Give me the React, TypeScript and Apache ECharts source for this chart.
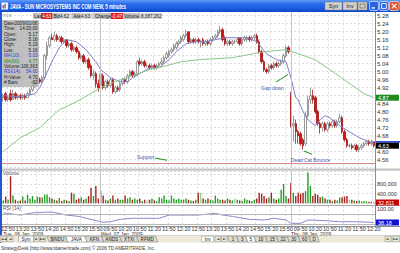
import React, { useEffect, useRef } from 'react';
import * as echarts from 'echarts';

const FONT = '"Liberation Sans", Arial, sans-serif';
const SYMBOL_FONT = '"DejaVu Sans", sans-serif';

const sessions = [
  { date: 'Tue, 06 Jan, 2009', start: '12:40', bars: 40 },
  { date: 'Wed, 07 Jan, 2009', start: '09:30', bars: 78 },
  { date: 'Thu, 08 Jan, 2009', start: '09:30', bars: 35 },
];

// [open, close, low, high]
const candlesDay1 = [
  [4.87, 4.88, 4.85, 4.89], [4.89, 4.86, 4.85, 4.90], [4.86, 4.87, 4.85, 4.88], [4.89, 4.86, 4.85, 4.91],
  [4.86, 4.89, 4.86, 4.91], [4.89, 4.87, 4.86, 4.90], [4.87, 4.88, 4.86, 4.89], [4.88, 4.87, 4.86, 4.89],
  [4.87, 4.88, 4.86, 4.89], [4.88, 4.87, 4.86, 4.89], [4.87, 4.89, 4.87, 4.90], [4.89, 4.91, 4.88, 4.92],
  [4.91, 4.93, 4.90, 4.94], [4.93, 4.95, 4.92, 4.96], [4.95, 4.96, 4.94, 4.97], [4.96, 4.95, 4.94, 4.97],
  [4.95, 4.97, 4.94, 4.98], [4.97, 5.08, 4.96, 5.09], [5.08, 5.13, 5.06, 5.15], [5.13, 5.17, 5.12, 5.18],
  [5.17, 5.16, 5.16, 5.19], [5.16, 5.18, 5.15, 5.20], [5.18, 5.16, 5.15, 5.19], [5.16, 5.17, 5.15, 5.18],
  [5.17, 5.15, 5.14, 5.18], [5.15, 5.16, 5.14, 5.17], [5.16, 5.13, 5.12, 5.16], [5.13, 5.14, 5.12, 5.15],
  [5.14, 5.11, 5.10, 5.15], [5.11, 5.12, 5.10, 5.13], [5.12, 5.10, 5.09, 5.13], [5.10, 5.07, 5.06, 5.11],
  [5.07, 5.08, 5.06, 5.09], [5.08, 5.05, 5.04, 5.09], [5.05, 5.06, 5.04, 5.07], [5.06, 5.02, 5.01, 5.07],
  [5.03, 4.98, 4.97, 5.04], [4.98, 4.99, 4.96, 5.01], [4.99, 4.94, 4.92, 5.00], [4.94, 4.92, 4.90, 4.96],
];
const candlesDay2 = [
  [4.93, 4.99, 4.92, 5.01], [4.98, 4.92, 4.91, 4.99], [4.92, 4.95, 4.91, 4.96], [4.95, 4.93, 4.92, 4.96],
  [4.93, 4.96, 4.92, 4.97], [4.96, 4.90, 4.89, 4.97], [4.90, 4.92, 4.89, 4.93], [4.92, 4.91, 4.90, 4.93],
  [4.91, 4.94, 4.90, 4.95], [4.94, 4.96, 4.93, 4.97], [4.96, 4.95, 4.94, 4.97], [4.95, 4.98, 4.94, 4.99],
  [4.98, 5.00, 4.97, 5.01], [5.00, 4.98, 4.97, 5.01], [4.98, 4.99, 4.97, 5.00], [4.99, 5.05, 4.98, 5.06],
  [5.05, 5.04, 5.03, 5.07], [5.04, 5.05, 5.03, 5.06], [5.05, 5.03, 5.02, 5.06], [5.03, 5.03, 5.02, 5.04],
  [5.03, 5.02, 5.01, 5.04], [5.02, 5.03, 5.01, 5.04], [5.03, 5.02, 5.01, 5.04], [5.02, 5.03, 5.01, 5.04],
  [5.03, 5.04, 5.02, 5.05], [5.04, 5.05, 5.03, 5.07], [5.05, 5.07, 5.04, 5.08], [5.07, 5.09, 5.06, 5.10],
  [5.08, 5.10, 5.07, 5.11], [5.10, 5.11, 5.09, 5.12], [5.11, 5.13, 5.10, 5.14], [5.12, 5.14, 5.11, 5.15],
  [5.14, 5.15, 5.13, 5.16], [5.15, 5.17, 5.14, 5.18], [5.16, 5.18, 5.15, 5.19], [5.18, 5.19, 5.17, 5.21],
  [5.20, 5.15, 5.14, 5.20], [5.15, 5.16, 5.14, 5.17], [5.16, 5.15, 5.14, 5.17], [5.15, 5.16, 5.14, 5.17],
  [5.16, 5.15, 5.14, 5.17], [5.15, 5.15, 5.12, 5.16], [5.16, 5.14, 5.13, 5.17], [5.14, 5.15, 5.13, 5.16],
  [5.15, 5.14, 5.13, 5.16], [5.14, 5.16, 5.13, 5.17], [5.16, 5.17, 5.15, 5.18], [5.17, 5.18, 5.16, 5.19],
  [5.18, 5.20, 5.17, 5.21], [5.20, 5.21, 5.19, 5.23], [5.21, 5.16, 5.15, 5.22], [5.17, 5.14, 5.13, 5.18],
  [5.14, 5.15, 5.13, 5.16], [5.15, 5.14, 5.13, 5.16], [5.14, 5.15, 5.13, 5.16], [5.15, 5.15, 5.14, 5.16],
  [5.15, 5.16, 5.14, 5.17], [5.17, 5.14, 5.13, 5.17], [5.14, 5.16, 5.13, 5.17], [5.16, 5.17, 5.15, 5.18],
  [5.16, 5.17, 5.15, 5.18], [5.17, 5.16, 5.15, 5.18], [5.16, 5.17, 5.15, 5.18], [5.17, 5.18, 5.16, 5.19],
  [5.18, 5.15, 5.14, 5.19], [5.15, 5.10, 5.09, 5.16], [5.10, 5.05, 5.04, 5.11], [5.05, 5.01, 5.00, 5.06],
  [5.01, 5.00, 4.99, 5.02], [5.00, 5.03, 4.99, 5.04], [5.03, 5.02, 5.01, 5.04], [5.02, 5.04, 5.01, 5.05],
  [5.04, 5.03, 5.02, 5.05], [5.03, 5.04, 5.02, 5.05], [5.04, 5.05, 5.03, 5.06], [5.05, 5.08, 5.04, 5.09],
  [5.08, 5.12, 5.07, 5.13], [5.12, 5.10, 5.09, 5.13],
];
const candlesDay3 = [
  [4.88, 4.73, 4.72, 4.90], [4.73, 4.74, 4.65, 4.78], [4.74, 4.70, 4.64, 4.76], [4.70, 4.68, 4.64, 4.71],
  [4.69, 4.64, 4.63, 4.70], [4.66, 4.63, 4.61, 4.67], [4.64, 4.78, 4.63, 4.80], [4.78, 4.86, 4.77, 4.88],
  [4.86, 4.88, 4.84, 4.92], [4.88, 4.86, 4.84, 4.91], [4.87, 4.80, 4.79, 4.88], [4.80, 4.74, 4.73, 4.81],
  [4.74, 4.72, 4.69, 4.75], [4.72, 4.74, 4.70, 4.75], [4.74, 4.71, 4.70, 4.75], [4.71, 4.74, 4.70, 4.75],
  [4.74, 4.73, 4.72, 4.75], [4.73, 4.75, 4.72, 4.76], [4.75, 4.73, 4.72, 4.76], [4.73, 4.75, 4.72, 4.76],
  [4.75, 4.77, 4.74, 4.79], [4.77, 4.70, 4.69, 4.78], [4.70, 4.66, 4.65, 4.71], [4.66, 4.63, 4.62, 4.67],
  [4.63, 4.63, 4.62, 4.64], [4.63, 4.62, 4.61, 4.64], [4.62, 4.63, 4.61, 4.64], [4.63, 4.61, 4.60, 4.64],
  [4.61, 4.62, 4.60, 4.63], [4.62, 4.63, 4.61, 4.64], [4.63, 4.64, 4.62, 4.65], [4.64, 4.65, 4.63, 4.66],
  [4.65, 4.64, 4.63, 4.66], [4.64, 4.65, 4.63, 4.66], [4.65, 4.63, 4.62, 4.65],
];

// volume in thousands of shares
const volumeDay1K = [
  120, 280, 150, 1120, 320, 150, 100, 120, 280, 120,
  360, 200, 300, 150, 280, 250, 240, 360, 360, 250,
  200, 150, 120, 220, 100, 150, 120, 100, 440, 400,
  150, 200, 250, 150, 200, 300, 640, 300, 720, 200,
];
const volumeDay2K = [
  520, 320, 150, 120, 200, 320, 150, 200, 150, 150,
  320, 200, 250, 150, 200, 150, 200, 100, 150, 120,
  150, 200, 120, 100, 250, 200, 320, 150, 120, 320,
  200, 150, 200, 150, 150, 200, 150, 120, 100, 150,
  440, 440, 200, 150, 200, 150, 120, 320, 200, 150,
  150, 120, 200, 150, 120, 200, 150, 120, 100, 200,
  150, 120, 100, 150, 200, 440, 400, 300, 200, 250,
  440, 200, 150, 200, 560, 800, 300, 200,
];
const volumeDay3K = [
  840, 440, 300, 440, 400, 440, 500, 1280, 720, 300,
  400, 350, 250, 280, 200, 150, 150, 100, 150, 120,
  240, 250, 280, 300, 150, 150, 120, 100, 120, 80,
  100, 80, 60, 70, 32.811,
];

// [bar index, value]
const ma10Points = [
  [0, 4.88], [7, 4.875], [13, 4.89], [15, 4.92], [17, 4.97], [20, 5.05], [23, 5.12], [26, 5.16],
  [30, 5.15], [34, 5.11], [38, 5.05], [40, 5.01], [44, 4.97], [48, 4.95], [51, 4.95], [53, 4.97],
  [56, 4.99], [60, 5.02], [64, 5.02], [68, 5.06], [71, 5.10], [75, 5.14], [79, 5.15], [83, 5.15],
  [87, 5.16], [91, 5.17], [95, 5.17], [100, 5.17], [104, 5.15], [108, 5.09], [112, 5.06], [116, 5.05],
  [118, 4.97], [120, 4.87], [121, 4.86], [123, 4.80], [125, 4.76], [128, 4.73], [130, 4.76], [132, 4.78],
  [134, 4.77], [138, 4.73], [142, 4.70], [146, 4.67], [152, 4.64],
];
const ma60Points = [
  [0, 4.60], [7, 4.67], [15, 4.72], [23, 4.81], [25, 4.82], [30, 4.85], [33, 4.87], [40, 4.92],
  [46, 4.95], [53, 4.98], [60, 5.01], [67, 5.03], [73, 5.05], [80, 5.06], [94, 5.07], [107, 5.10],
  [116, 5.11], [121, 5.09], [128, 5.06], [134, 5.01], [141, 4.95], [148, 4.89], [152, 4.87],
];
const rsiPoints = [
  [0, 74], [7, 66], [12, 74], [18, 77], [20, 77], [26, 66], [31, 61], [37, 47.5], [41, 39], [44, 41],
  [48, 50], [53, 54], [59, 54], [64, 54], [68, 66], [72, 66], [77, 66], [80, 66], [87, 72.5], [90, 66],
  [94, 61], [101, 50], [107, 47.5], [111, 54], [116, 47.5], [118, 35], [122, 35], [125, 47.5],
  [132, 45], [138, 41], [145, 41], [152, 38.18],
];

const supportLevel = 4.54;
const rsiLevels = [70, 30];
const lastPrice = 4.63;
const ma60Last = 4.87;
const lastVolume = 32811;
const lastRsi = 38.18;
const hiddenPriceLabels = ['4.88', '4.64'];

const infoRows = [
  ['Date:', '2009/01/06', '#222'], ['Time:', '14:20:00', '#222'], ['Open:', '5.17', '#222'],
  ['Close:', '5.16', '#222'], ['High:', '5.19', '#222'], ['Low:', '5.16', '#222'],
  ['MA(10):', '5.03', '#3040d0'], ['MA(60):', '4.77', '#1c8a1c'], ['Volume:', '106,363', '#222'],
  ['RSI(14):', '54.60', '#3040d0'], ['H-Value:', '4.70', '#222'], ['# Bars:', '-62', '#222'],
];
const symbolTabs = ['$INDU', 'JAVA', 'KFN', 'ANDS', 'XTXI', 'RFMD'];
const symbolTabEdges = [48, 66.7, 86, 102.7, 120.7, 137.7, 156.7];
const periodTabs = ['1', '3', '5', '10', '15', '22', '30', '60', 'D'];
const periodTabEdges = [228.3, 237.7, 246.7, 255, 266.7, 277.7, 288.3, 299.3, 310, 318.3];

function buildTimes() {
  const times: string[] = [];
  const dayStarts: number[] = [];
  sessions.forEach((s) => {
    dayStarts.push(times.length);
    let [h, m] = s.start.split(':').map(Number);
    for (let k = 0; k < s.bars; k++) {
      times.push(String(h).padStart(2, '0') + ':' + String(m).padStart(2, '0'));
      m += 5;
      if (m >= 60) { m -= 60; h += 1; }
    }
  });
  return { times, dayStarts };
}

export default function App() {
  const ref = useRef<HTMLDivElement>(null);
  useEffect(() => {
    document.body.style.margin = '0';
    const chart = echarts.init(ref.current!, undefined, { renderer: 'svg' });
    const { times, dayStarts } = buildTimes();
    const candles = [...candlesDay1, ...candlesDay2, ...candlesDay3];
    const volumes = [...volumeDay1K, ...volumeDay2K, ...volumeDay3K].map((v) => v * 1000);
    const volData = volumes.map((v, i) => {
      const [o, c] = candles[i];
      const prev = i > 0 ? candles[i - 1][1] : o;
      const up = c >= prev;
      const agree = up ? c > o : c < o;
      const color = up ? (agree ? '#22a022' : '#8fd88f') : (agree ? '#a82020' : '#e39090');
      return { value: v, itemStyle: { color } };
    });
    const isLabel = (i: number) => /:(20|50)$/.test(times[i] || '');
    const daySep = {
      silent: true, symbol: ['none', 'none'], label: { show: false },
      emphasis: { disabled: true },
      lineStyle: { color: '#c4c4c4', type: 'solid', width: 1 },
      data: dayStarts.slice(1).map((d) => ({ xAxis: d })),
    };
    const gridSplit = { show: true, interval: (i: number) => isLabel(i), lineStyle: { color: '#dedede', type: [2, 2], width: 1 } };
    const baseX = {
      type: 'category', data: times, boundaryGap: true,
      axisLine: { show: false }, axisTick: { show: false }, axisLabel: { show: false },
      splitLine: gridSplit,
    };

    chart.setOption({
      animation: false,
      backgroundColor: '#ffffff',
      grid: [
        { left: 2, top: 7.7, width: 373, height: 160, containLabel: false, outerBoundsMode: 'none' },
        { left: 2, top: 171, width: 373, height: 32.3, containLabel: false, outerBoundsMode: 'none' },
        { left: 2, top: 206, width: 373, height: 20, containLabel: false, outerBoundsMode: 'none' },
      ],
      xAxis: [
        { ...baseX, gridIndex: 0 },
        { ...baseX, gridIndex: 1 },
        { ...baseX, gridIndex: 2, position: 'bottom',
          axisLabel: { show: true, interval: (i: number) => isLabel(i), margin: 0,
            fontSize: 5.5, lineHeight: 5.5, color: '#333', fontFamily: FONT } },
        { type: 'category', data: times, boundaryGap: true, gridIndex: 2, position: 'bottom', offset: 0,
          axisLine: { show: false }, axisTick: { show: false }, splitLine: { show: false },
          axisLabel: { show: true, interval: (i: number) => dayStarts.includes(i),
            formatter: (_v: string, i: number) => sessions[dayStarts.indexOf(i)]?.date ?? '',
            align: 'left', margin: 5.7, fontSize: 5, color: '#333', fontFamily: FONT, lineHeight: 5 } },
      ],
      yAxis: [
        { gridIndex: 0, type: 'value', position: 'right', min: 4.52, max: 5.32, interval: 0.04,
          axisLine: { show: false }, axisTick: { show: false },
          axisLabel: { margin: 2, fontSize: 6, color: '#333', fontFamily: FONT,
            formatter: (v: number) => {
              const s = v.toFixed(2);
              return v < 4.555 || v > 5.30 || hiddenPriceLabels.includes(s) ? '' : s;
            } },
          splitLine: { show: true, lineStyle: { color: '#dedede', type: [2, 2], width: 1 } } },
        { gridIndex: 1, type: 'value', position: 'right', min: 0, max: 1340000, interval: 400000,
          axisLine: { show: false }, axisTick: { show: false },
          axisLabel: { margin: 2, fontSize: 5.5, color: '#333', fontFamily: FONT,
            formatter: (v: number) => (v === 400000 ? '400,000' : v === 800000 ? '800,000' : '') },
          splitLine: { show: true, lineStyle: { color: '#dedede', type: [2, 2], width: 1 } } },
        { gridIndex: 2, type: 'value', position: 'right', min: 25, max: 100, interval: 25,
          axisLine: { show: false }, axisTick: { show: false },
          axisLabel: { margin: 2, fontSize: 5.5, color: '#333', fontFamily: FONT, verticalAlign: 'top',
            formatter: (v: number) => (v === 100 ? '100.00' : '') },
          splitLine: { show: false } },
      ],
      series: [
        { type: 'candlestick', xAxisIndex: 0, yAxisIndex: 0, data: candles, barWidth: 2, silent: true,
          itemStyle: { color: '#ffffff', color0: '#e01010', borderColor: '#707070', borderColor0: '#9a0000', borderWidth: 0.7 },
          markLine: { ...daySep, data: [...daySep.data, { yAxis: supportLevel, lineStyle: { color: '#d88a8a', type: 'solid', width: 1 } }] } },
        { type: 'line', xAxisIndex: 0, yAxisIndex: 0, data: ma10Points, symbol: 'none', silent: true,
          lineStyle: { color: '#8080c8', width: 1 } },
        { type: 'line', xAxisIndex: 0, yAxisIndex: 0, data: ma60Points, symbol: 'none', silent: true,
          lineStyle: { color: '#8cc88c', width: 1 } },
        { type: 'bar', xAxisIndex: 1, yAxisIndex: 1, data: volData, barWidth: 1.4, silent: true,
          markLine: daySep },
        { type: 'line', xAxisIndex: 2, yAxisIndex: 2, data: rsiPoints, symbol: 'none', silent: true,
          lineStyle: { color: '#8a8ac8', width: 1 },
          markLine: { ...daySep, data: [...daySep.data, ...rsiLevels.map((l) => ({ yAxis: l, lineStyle: { color: '#b8b8b8', type: 'solid', width: 1 } }))] } },
      ],
    });

    const Z = 100;
    const rect = (x: number, y: number, w: number, h: number, fill: any, stroke?: string, lw = 0.5, r = 0) => ({
      type: 'rect', silent: true, z: Z, shape: { x, y, width: w, height: h, r },
      style: { fill, stroke: stroke || 'none', lineWidth: lw },
    });
    const line = (x1: number, y1: number, x2: number, y2: number, stroke: string, lw = 1) => ({
      type: 'line', silent: true, z: Z, shape: { x1, y1, x2, y2 }, style: { stroke, lineWidth: lw },
    });
    const text = (x: number, y: number, t: string, o: any = {}) => ({
      type: 'text', silent: true, z: Z + 1, x, y, scaleX: o.scaleX ?? 1,
      style: {
        text: t, fill: o.fill || '#222', fontSize: o.size || 5, fontFamily: o.family || FONT,
        fontWeight: o.weight || 'normal', align: o.align || 'left', verticalAlign: 'middle',
        textAlign: o.align || 'left', textVerticalAlign: 'middle', lineHeight: o.size || 5,
      },
    });
    const poly = (pts: number[][], fill: string, stroke: string) => ({
      type: 'polygon', silent: true, z: Z, shape: { points: pts }, style: { fill, stroke, lineWidth: 0.5 },
    });

    const yP = (v: number) => chart.convertToPixel({ yAxisIndex: 0 }, v) as number;
    const yV = (v: number) => chart.convertToPixel({ yAxisIndex: 1 }, v) as number;
    const yR = (v: number) => chart.convertToPixel({ yAxisIndex: 2 }, v) as number;

    const g: any[] = [];
    // frame & panel separators
    g.push(rect(0, 12, 2, 231, '#2357d6'));
    g.push(rect(2, 168.6, 398, 2.2, '#c6c6c6'));
    g.push(line(2, 205.5, 400, 205.5, '#a8a8a8', 1));
    g.push(line(2, 226.5, 400, 226.5, '#8c8c8c', 1));
    g.push(line(375.5, 12, 375.5, 226.5, '#8c8c8c', 1));
    // title bar
    g.push(rect(0, 0, 400, 12, {
      type: 'linear', x: 0, y: 0, x2: 0, y2: 1,
      colorStops: [{ offset: 0, color: '#5f9ef8' }, { offset: 0.3, color: '#2e6fec' }, { offset: 0.75, color: '#1858de' }, { offset: 1, color: '#0e47c6' }],
    }));
    g.push(rect(1.5, 2.5, 6.5, 7, '#ffffff', '#9ab4e8', 0.5));
    g.push(rect(2.6, 5, 1.2, 3.5, '#d02020'));
    g.push(rect(4.5, 3.8, 1.2, 4.7, '#505050'));
    g.push(text(10, 6.3, 'JAVA - SUN MICROSYSTEMS INC COM NEW, 5 minutes', { fill: '#ffffff', size: 6.5, weight: 'bold', scaleX: 0.68 }));
    g.push(rect(325, 2, 17, 8, '#d4d0c8', '#7f7f7f'));
    g.push(text(333.5, 6.2, 'Syn', { align: 'center', size: 5.5 }));
    g.push(rect(343, 2, 14, 8, '#d4d0c8', '#7f7f7f'));
    g.push(text(350, 6.2, 'Inv', { align: 'center', size: 5.5 }));
    g.push(rect(358, 2, 9, 8, '#d4d0c8', '#7f7f7f'));
    g.push(rect(360, 4, 5, 4, 'none', '#555', 0.6));
    g.push(rect(369.5, 1.5, 9, 9, '#2a63e6', '#ffffff', 0.6, 1.5));
    g.push(rect(371.5, 7.3, 3.5, 1.3, '#ffffff'));
    g.push(rect(379.5, 1.5, 9, 9, '#2a63e6', '#ffffff', 0.6, 1.5));
    g.push(rect(381.6, 3.6, 4.8, 4.8, 'none', '#ffffff', 0.9));
    g.push(rect(389.5, 1.5, 9.5, 9, '#e0522c', '#ffffff', 0.6, 1.5));
    g.push(line(391.8, 3.6, 396.6, 8.4, '#ffffff', 1.1));
    g.push(line(396.6, 3.6, 391.8, 8.4, '#ffffff', 1.1));
    // ticker + quote bar
    g.push(text(3, 15.3, 'TCK', { size: 4.3, fill: '#777' }));
    g.push(rect(33, 13, 129, 6, '#c2c2c2'));
    g.push(text(34.3, 16, 'Last', { size: 4.6 }));
    g.push(rect(41.2, 13, 11, 6, '#e41c1c'));
    g.push(text(46.7, 16, '4.63', { size: 4.6, fill: '#fff', align: 'center' }));
    g.push(text(53.5, 16, 'Bid', { size: 4.6 }));
    g.push(rect(59, 13, 13, 6, '#d8d8d8'));
    g.push(text(60, 16, '4.62', { size: 4.6 }));
    g.push(text(73.5, 16, 'Ask', { size: 4.6 }));
    g.push(rect(80, 13, 13.5, 6, '#d8d8d8'));
    g.push(text(81, 16, '4.63', { size: 4.6 }));
    g.push(text(95, 16, 'Change', { size: 4.6 }));
    g.push(rect(110.8, 13, 12, 6, '#e41c1c'));
    g.push(text(116.8, 16, '-0.47', { size: 4.6, fill: '#fff', align: 'center' }));
    g.push(text(124, 16, 'Volume', { size: 4.6 }));
    g.push(rect(140, 13, 22, 6, '#d8d8d8'));
    g.push(text(141, 16, '8,387,262', { size: 4.6 }));
    // info box
    g.push(rect(2, 20, 37, 67, 'rgba(178,178,178,0.82)'));
    infoRows.forEach(([k, v, c], i) => {
      const y = 23.3 + i * 5.4;
      g.push(text(4, y, k, { size: 4.6, fill: c }));
      g.push(text(37.5, y, v, { size: 4.6, fill: c, align: 'right' }));
    });
    // annotations
    const annC = '#4a5aa8';
    const annL = '#1e8e1e';
    g.push(text(145.5, 157.3, 'Support', { size: 5, fill: annC, align: 'center' }));
    g.push(line(155, 158, 167, 160.3, annL, 1));
    g.push(text(272.5, 87.5, 'Gap down', { size: 5, fill: annC, align: 'center' }));
    g.push(line(276, 82, 288, 74.5, annL, 1));
    g.push(text(310.5, 159.5, 'Dead Cat Bounce', { size: 5, fill: annC, align: 'center' }));
    g.push(line(304, 151, 312, 154.3, annL, 1));
    // panel titles
    g.push(text(3, 173.8, 'Volume', { size: 4.8, fill: '#555' }));
    g.push(text(3, 208.6, 'RSI (14)', { size: 4.8, fill: '#555' }));
    // right-axis value boxes
    const box = (y: number, t: string, fill: string) => {
      g.push(rect(376, y - 3, 23, 6, fill));
      g.push(text(378, y + 0.2, t, { size: 5.5, fill: '#ffffff' }));
    };
    box(yP(ma60Last), '4.87', '#1f8a1f');
    const yl = yP(lastPrice);
    g.push(rect(376, yl - 4.6, 24, 1.6, '#1838e0'));
    box(yl, '4.63', '#000000');
    box(yV(lastVolume), '32,811', '#cc0000');
    box(yR(lastRsi), '38.18', '#1212d2');
    // tab bar
    g.push(rect(0, 235.4, 400, 7, '#ece9d8'));
    g.push(line(0, 235.4, 400, 235.4, '#b0b0b0', 0.5));
    const btn = (x: number, w: number, t: string, white = false, fam = SYMBOL_FONT, size = 3.6) => {
      g.push(rect(x, 236.2, w, 5.6, white ? '#ffffff' : '#ece9d8', '#8a8a8a'));
      g.push(text(x + w / 2, 239.2, t, { size, align: 'center', family: fam }));
    };
    btn(0.8, 5.6, '◄◄');
    btn(7, 6, '◄');
    btn(18.5, 15, 'Sym', true, FONT, 4.6);
    btn(34, 5, '►');
    btn(40, 5.6, '►►');
    symbolTabs.forEach((t, i) => {
      const a = symbolTabEdges[i];
      const b = symbolTabEdges[i + 1];
      const sel = t === 'JAVA';
      g.push(poly([[a - 1, 236.2], [b - 1, 236.2], [b + 1, 242], [a + 1, 242]], sel ? '#ffffff' : '#dddbd1', '#6e6e6e'));
      g.push(text((a + b) / 2, 239.2, t, { size: 4.6, align: 'center' }));
    });
    btn(201.5, 12, 'Inv', true, FONT, 4.6);
    btn(215, 5.5, '◄');
    btn(221.5, 5.5, '►');
    periodTabs.forEach((t, i) => {
      const a = periodTabEdges[i];
      const b = periodTabEdges[i + 1];
      const sel = t === '5';
      g.push(poly([[a - 1, 236.2], [b - 1, 236.2], [b + 1, 242], [a + 1, 242]], sel ? '#ffffff' : '#dddbd1', '#6e6e6e'));
      g.push(text((a + b) / 2, 239.2, t, { size: 4.6, align: 'center' }));
    });
    btn(385, 6, '►');
    btn(392, 7.5, '►►');
    // footer
    g.push(text(1, 248.5, 'StrategyDesk [http://www.tdameritrade.com] © 2006 TD AMERITRADE, Inc.', { size: 4.6, fill: '#333' }));

    chart.setOption({ graphic: g });
    return () => chart.dispose();
  }, []);
  return <div ref={ref} style={{ width: 400, height: 253 }} />;
}
